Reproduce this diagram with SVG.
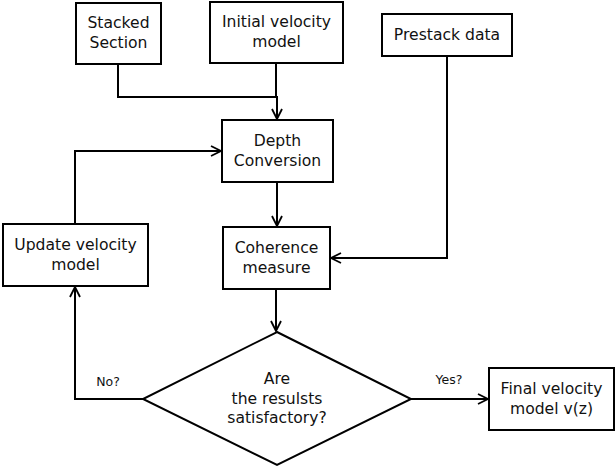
<svg xmlns="http://www.w3.org/2000/svg" width="616" height="467" viewBox="0 0 616 467">
<defs>
<marker id="arr" viewBox="0 0 12 12" refX="11" refY="6" markerWidth="12" markerHeight="12" markerUnits="userSpaceOnUse" orient="auto">
<path d="M1,1 L11,6 L1,11" fill="none" stroke="#000" stroke-width="1.8"/>
</marker>
<style>
.box{fill:#fff;stroke:#000;stroke-width:2}
.t{font-family:"DejaVu Sans",sans-serif;font-size:15.6px;fill:#111;text-anchor:middle}
.s{font-family:"DejaVu Sans",sans-serif;font-size:12.5px;fill:#111;text-anchor:middle}
.c{fill:none;stroke:#000;stroke-width:2}
</style>
</defs>
<rect width="616" height="467" fill="#fff"/>
<g id="connectors">
<path class="c" d="M118,64 V97 H277"/>
<path class="c" d="M276,63 V97 H277 V119" marker-end="url(#arr)"/>
<path class="c" d="M447,56 V258 H331" marker-end="url(#arr)"/>
<path class="c" d="M75,224 V151 H221" marker-end="url(#arr)"/>
<path class="c" d="M277,182 V226" marker-end="url(#arr)"/>
<path class="c" d="M276,289 V331" marker-end="url(#arr)"/>
<path class="c" d="M143,399 H75 V287" marker-end="url(#arr)"/>
<path class="c" d="M411,399 H488" marker-end="url(#arr)"/>
<text class="s" x="108" y="386">No?</text>
<text class="s" x="449" y="384">Yes?</text>
</g>
<g id="stacked">
<rect class="box" x="76" y="3" width="85" height="61"/>
<text class="t" x="118.5" y="28">Stacked</text>
<text class="t" x="118.5" y="48">Section</text>
</g>
<g id="initial">
<rect class="box" x="210" y="2" width="133" height="61"/>
<text class="t" x="276.5" y="27">Initial velocity</text>
<text class="t" x="276.5" y="47">model</text>
</g>
<g id="prestack">
<rect class="box" x="382" y="14" width="130" height="42"/>
<text class="t" x="447" y="40">Prestack data</text>
</g>
<g id="depth">
<rect class="box" x="222" y="120" width="111" height="62"/>
<text class="t" x="277.5" y="146">Depth</text>
<text class="t" x="277.5" y="166">Conversion</text>
</g>
<g id="update">
<rect class="box" x="3" y="224" width="145" height="62"/>
<text class="t" x="75.5" y="250">Update velocity</text>
<text class="t" x="75.5" y="270">model</text>
</g>
<g id="coherence">
<rect class="box" x="223" y="227" width="107" height="62"/>
<text class="t" x="276.5" y="253">Coherence</text>
<text class="t" x="276.5" y="273">measure</text>
</g>
<g id="decision">
<polygon class="box" points="277,332 411,399 277,465 143,399"/>
<text class="t" x="277" y="384">Are</text>
<text class="t" x="277" y="404">the resulsts</text>
<text class="t" x="277" y="423">satisfactory?</text>
</g>
<g id="final">
<rect class="box" x="489" y="368" width="125" height="62"/>
<text class="t" x="551.5" y="394">Final velocity</text>
<text class="t" x="551.5" y="414">model v(z)</text>
</g>
</svg>
